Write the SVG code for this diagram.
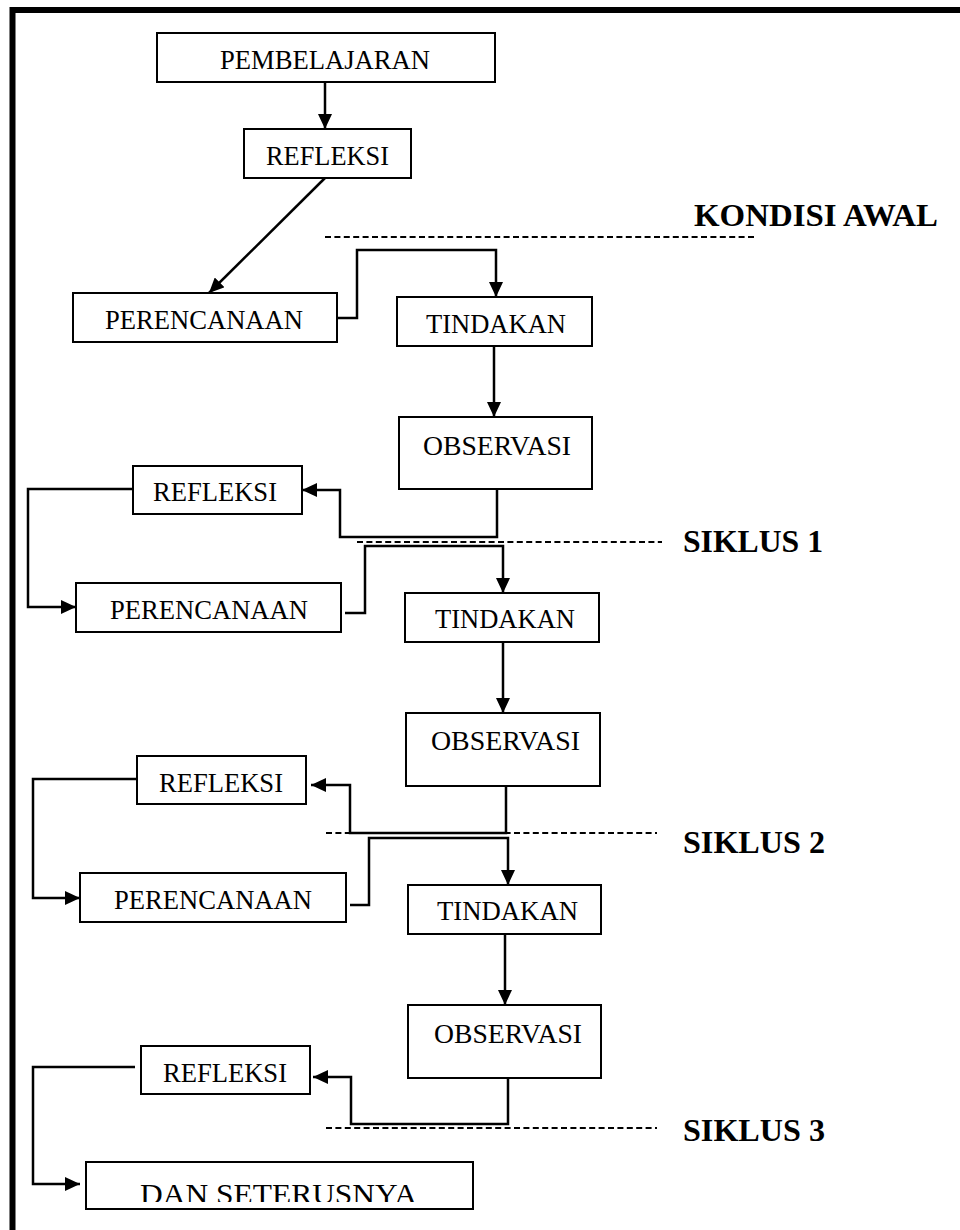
<svg xmlns="http://www.w3.org/2000/svg" width="960" height="1230" viewBox="0 0 960 1230">
<style>
.box{fill:#fff;stroke:#000;stroke-width:2}
.t{font-family:"Liberation Serif","Times New Roman",serif;font-size:26.5px;fill:#000}
.b{font-family:"Liberation Serif","Times New Roman",serif;font-size:31px;font-weight:bold;fill:#000}
.c{fill:none;stroke:#000;stroke-width:2.5}
.d{fill:none;stroke:#000;stroke-width:2;stroke-dasharray:6 3.4}
</style>
<defs>
<marker id="ah" markerUnits="userSpaceOnUse" markerWidth="15" markerHeight="14" refX="15" refY="7" orient="auto" viewBox="0 0 15 14">
<path d="M0,0 L15,7 L0,14 Z" fill="#000"/>
</marker>
<clipPath id="clipDan"><rect x="86" y="1162" width="387" height="40"/></clipPath>
</defs>
<rect width="960" height="1230" fill="#fff"/>
<path id="frame" d="M12.5,1240 V10 H980" fill="none" stroke="#000" stroke-width="6"/>

<g id="connectors">
<path class="c" d="M325,82 V129" marker-end="url(#ah)"/>
<path class="c" d="M325,178 L209,293" stroke-width="2" marker-end="url(#ah)"/>
<path class="c" d="M337,318 H357 V250 H496 V297" marker-end="url(#ah)"/>
<path class="c" d="M494,346 V417" marker-end="url(#ah)"/>
<path class="c" d="M497,489 V537 H340 V490 H302" marker-end="url(#ah)"/>
<path class="c" d="M133,489 H28 V607 H76" marker-end="url(#ah)"/>
<path class="c" d="M345,613 H365 V546 H503 V593" marker-end="url(#ah)"/>
<path class="c" d="M503,642 V713" marker-end="url(#ah)"/>
<path class="c" d="M506,786 V833 H350 V785 H311" marker-end="url(#ah)"/>
<path class="c" d="M137,779 H33 V898 H80" marker-end="url(#ah)"/>
<path class="c" d="M350,905 H369 V838 H508 V885" marker-end="url(#ah)"/>
<path class="c" d="M505,934 V1005" marker-end="url(#ah)"/>
<path class="c" d="M508,1078 V1124 H351 V1077 H313" marker-end="url(#ah)"/>
<path class="c" d="M135,1067 H33 V1184 H80" marker-end="url(#ah)"/>
</g>

<g id="dividers">
<path class="d" d="M325,237 H757"/>
<path class="d" d="M357,542 H662"/>
<path class="d" d="M326,833 H657"/>
<path class="d" d="M326,1128 H657"/>
</g>

<g id="labels">
<text class="b" x="694" y="226" textLength="244" lengthAdjust="spacingAndGlyphs">KONDISI AWAL</text>
<text class="b" x="683" y="552" textLength="140" lengthAdjust="spacingAndGlyphs">SIKLUS 1</text>
<text class="b" x="683" y="853" textLength="142" lengthAdjust="spacingAndGlyphs">SIKLUS 2</text>
<text class="b" x="683" y="1141" textLength="142" lengthAdjust="spacingAndGlyphs">SIKLUS 3</text>
</g>

<g id="pembelajaran"><rect class="box" x="157" y="33" width="338" height="49"/><text class="t" x="220" y="69" textLength="210" lengthAdjust="spacingAndGlyphs">PEMBELAJARAN</text></g>
<g id="refleksi0"><rect class="box" x="244" y="129" width="167" height="49"/><text class="t" x="266" y="165" textLength="123" lengthAdjust="spacingAndGlyphs">REFLEKSI</text></g>
<g id="perencanaan1"><rect class="box" x="73" y="293" width="264" height="49"/><text class="t" x="105" y="329" textLength="198" lengthAdjust="spacingAndGlyphs">PERENCANAAN</text></g>
<g id="tindakan1"><rect class="box" x="397" y="297" width="195" height="49"/><text class="t" x="426" y="333" textLength="140" lengthAdjust="spacingAndGlyphs">TINDAKAN</text></g>
<g id="observasi1"><rect class="box" x="399" y="417" width="193" height="72"/><text class="t" x="423" y="455" textLength="148" lengthAdjust="spacingAndGlyphs">OBSERVASI</text></g>
<g id="refleksi1"><rect class="box" x="133" y="466" width="169" height="48"/><text class="t" x="153" y="501" textLength="124" lengthAdjust="spacingAndGlyphs">REFLEKSI</text></g>
<g id="perencanaan2"><rect class="box" x="76" y="583" width="265" height="49"/><text class="t" x="110" y="619" textLength="198" lengthAdjust="spacingAndGlyphs">PERENCANAAN</text></g>
<g id="tindakan2"><rect class="box" x="405" y="593" width="194" height="49"/><text class="t" x="435" y="628" textLength="140" lengthAdjust="spacingAndGlyphs">TINDAKAN</text></g>
<g id="observasi2"><rect class="box" x="406" y="713" width="194" height="73"/><text class="t" x="431" y="750" textLength="149" lengthAdjust="spacingAndGlyphs">OBSERVASI</text></g>
<g id="refleksi2"><rect class="box" x="137" y="756" width="169" height="48"/><text class="t" x="159" y="792" textLength="124" lengthAdjust="spacingAndGlyphs">REFLEKSI</text></g>
<g id="perencanaan3"><rect class="box" x="80" y="873" width="266" height="49"/><text class="t" x="114" y="909" textLength="198" lengthAdjust="spacingAndGlyphs">PERENCANAAN</text></g>
<g id="tindakan3"><rect class="box" x="408" y="885" width="193" height="49"/><text class="t" x="437" y="920" textLength="141" lengthAdjust="spacingAndGlyphs">TINDAKAN</text></g>
<g id="observasi3"><rect class="box" x="408" y="1005" width="193" height="73"/><text class="t" x="434" y="1043" textLength="148" lengthAdjust="spacingAndGlyphs">OBSERVASI</text></g>
<g id="refleksi3"><rect class="box" x="141" y="1046" width="169" height="48"/><text class="t" x="163" y="1082" textLength="124" lengthAdjust="spacingAndGlyphs">REFLEKSI</text></g>
<g id="dan-seterusnya"><rect class="box" x="86" y="1162" width="387" height="47"/><text class="t" x="140" y="1204" style="font-size:30px" textLength="277" lengthAdjust="spacingAndGlyphs" clip-path="url(#clipDan)">DAN SETERUSNYA</text></g>
</svg>
